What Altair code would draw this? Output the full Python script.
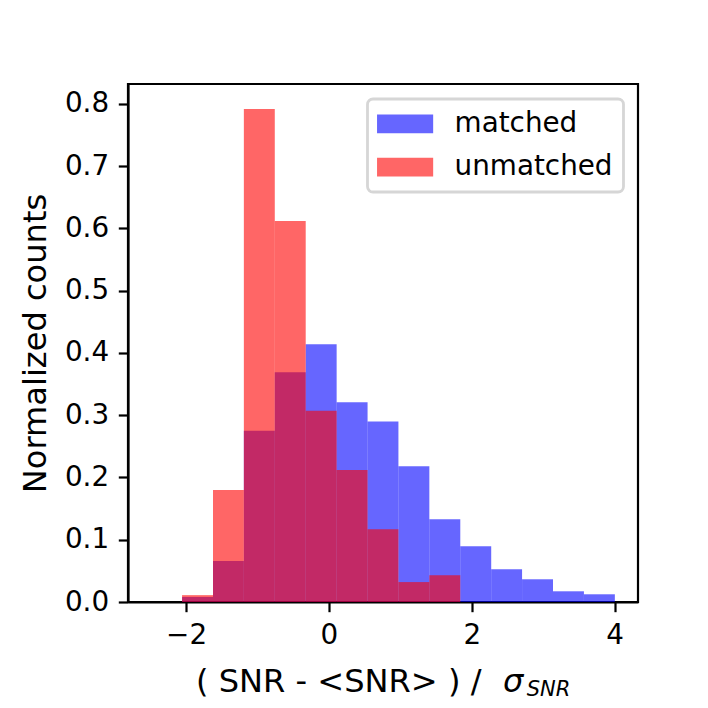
import altair as alt
import pandas as pd

# ---- data ----
bin_edges = [-2.489, -2.056, -1.623, -1.191, -0.758, -0.325, 0.108, 0.541,
             0.973, 1.406, 1.839, 2.272, 2.704, 3.137, 3.570, 4.003]
matched = [0.0, 0.008, 0.066, 0.275, 0.369, 0.414, 0.321, 0.290,
           0.218, 0.133, 0.0895, 0.0526, 0.0365, 0.0172, 0.0124]
unmatched = [0.0, 0.011, 0.180, 0.792, 0.612, 0.307, 0.212, 0.117,
             0.032, 0.043, 0.0, 0.0, 0.0, 0.0, 0.0]
series_names = ["matched", "unmatched"]
series_colors = ["blue", "red"]
x_ticks = [-2, 0, 2, 4]
y_ticks = [0.0, 0.1, 0.2, 0.3, 0.4, 0.5, 0.6, 0.7, 0.8]
x_domain = [-2.813, 4.327]
y_domain = [0.0, 0.832]
x_label_main = "( SNR - <SNR> ) /"
x_label_sigma = "σ"
x_label_sub = "SNR"
y_label = "Normalized counts"

FONT = "DejaVu Sans"


def hist_frame(name, values):
    rows = []
    for i, v in enumerate(values):
        if v > 0:
            rows.append({"lo": bin_edges[i], "hi": bin_edges[i + 1],
                         "value": v, "series": name})
    return pd.DataFrame(rows)


df_m = hist_frame("matched", matched)
df_u = hist_frame("unmatched", unmatched)

xscale = alt.Scale(domain=x_domain, nice=False, zero=False)
yscale = alt.Scale(domain=y_domain, nice=False, zero=False)

legend = alt.Legend(
    title=None, orient="none", legendX=239.5, legendY=15,
    symbolType="M-3,-1H3V1H-3Z", symbolSize=350, symbolOffset=12.7,
    symbolOpacity=0.6, symbolStrokeWidth=0,
    labelFontSize=27.8, labelFont=FONT, labelColor="black",
    labelOffset=35.6, rowPadding=14.2, padding=11,
    fillColor="white", strokeColor="#d6d6d6", cornerRadius=5.5,
    labelLimit=400,
)
color = alt.Color("series:N",
                  scale=alt.Scale(domain=series_names, range=series_colors),
                  legend=legend)

x_enc = alt.X("lo:Q", scale=xscale,
              axis=alt.Axis(values=x_ticks, title=None, labelFlush=False,
                            format="d"))
y_enc = alt.Y("value:Q", scale=yscale,
              axis=alt.Axis(values=y_ticks, format=".1f", title=y_label,
                            labelFlush=False, labelOverlap=False,
                            titleFontSize=32.1, titleFont=FONT,
                            titleFontWeight="normal", titleColor="black",
                            titleAngle=270, titleAlign="center",
                            titleBaseline="alphabetic",
                            titleX=-83, titleY=259))


def bars(df):
    return alt.Chart(df).mark_bar(opacity=0.6).encode(
        x=x_enc, x2="hi:Q", y=y_enc, y2=alt.datum(0), color=color)


bars_m = bars(df_m)
bars_u = bars(df_u)

t_main = alt.Chart(pd.DataFrame({"t": [x_label_main]})).mark_text(
    align="left", baseline="alphabetic", fontSize=32.1, font=FONT,
    color="black").encode(text="t:N", x=alt.value(68), y=alt.value(607.7))
t_sigma = alt.Chart(pd.DataFrame({"t": [x_label_sigma]})).mark_text(
    align="left", baseline="alphabetic", fontSize=32.1, font=FONT,
    fontStyle="italic", color="black").encode(
    text="t:N", x=alt.value(375), y=alt.value(607.7))
t_sub = alt.Chart(pd.DataFrame({"t": [x_label_sub]})).mark_text(
    align="left", baseline="alphabetic", fontSize=21, font=FONT,
    fontStyle="italic", color="black").encode(
    text="t:N", x=alt.value(398.7), y=alt.value(611.5))

chart = alt.layer(bars_m, bars_u, t_main, t_sigma, t_sub).properties(
    width=510, height=518,
    padding={"left": 120, "top": 76, "right": 62, "bottom": 98},
    autosize=alt.AutoSizeParams(type="none"),
).configure_view(
    stroke="black", strokeWidth=2.2
).configure_axis(
    domainColor="black", domainWidth=2.2, tickColor="black", tickWidth=2.2,
    tickSize=9.7, labelFontSize=27.8, labelFont=FONT, labelColor="black",
    labelPadding=9.7, grid=False, zindex=1,
).configure_legend(
    strokeWidth=2.8
)

chart.save("out.html", embed_options={"renderer": "svg", "actions": False})
